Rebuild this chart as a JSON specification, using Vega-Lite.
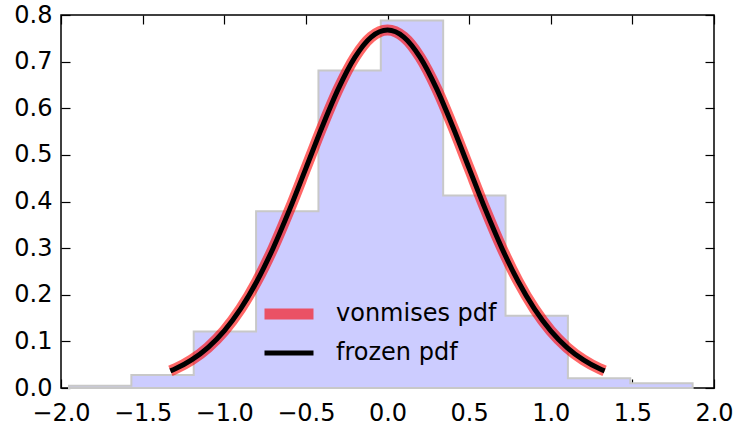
{
  "$schema": "https://vega.github.io/schema/vega-lite/v6.json",
  "width": 653,
  "height": 373,
  "autosize": {"type": "none"},
  "padding": {"left": 61, "top": 15, "right": 23, "bottom": 37},
  "background": "white",
  "config": {
    "view": {"stroke": "black", "strokeWidth": 1.5},
    "font": "DejaVu Sans",
    "axis": {"grid": false, "domain": false, "tickColor": "black", "tickWidth": 1.2, "tickSize": -9, "labelFont": "DejaVu Sans", "labelFontSize": 24, "labelColor": "black", "labelOverlap": false, "labelBound": false, "labelFlush": false, "title": null},
    "legend": {"orient": "none", "legendX": 210, "legendY": 281, "symbolType": "M-2,0H2", "symbolSize": 600, "labelFont": "DejaVu Sans", "labelFontSize": 24, "labelColor": "black", "labelLimit": 400, "rowPadding": 2, "labelOffset": 29, "title": null}
  },
  "datasets": {
    "hist": [
      {"x": -1.951, "h": 0.005},
      {"x": -1.569, "h": 0.028},
      {"x": -1.187, "h": 0.121},
      {"x": -0.805, "h": 0.379},
      {"x": -0.423, "h": 0.681},
      {"x": -0.041, "h": 0.788},
      {"x": 0.341, "h": 0.413},
      {"x": 0.723, "h": 0.155},
      {"x": 1.105, "h": 0.021},
      {"x": 1.487, "h": 0.010},
      {"x": 1.869, "h": 0.010}
    ],
    "curve": [
      {"x": -1.33, "y": 0.0368}, {"x": -1.3, "y": 0.0413}, {"x": -1.2, "y": 0.0603}, {"x": -1.1, "y": 0.0868},
      {"x": -1.0, "y": 0.1226}, {"x": -0.9, "y": 0.1697}, {"x": -0.8, "y": 0.2289}, {"x": -0.7, "y": 0.3004},
      {"x": -0.6, "y": 0.3825}, {"x": -0.5, "y": 0.4711}, {"x": -0.4, "y": 0.5603}, {"x": -0.3, "y": 0.6425},
      {"x": -0.2, "y": 0.7091}, {"x": -0.1, "y": 0.7527}, {"x": 0.0, "y": 0.7678}, {"x": 0.1, "y": 0.7527},
      {"x": 0.2, "y": 0.7091}, {"x": 0.3, "y": 0.6425}, {"x": 0.4, "y": 0.5603}, {"x": 0.5, "y": 0.4711},
      {"x": 0.6, "y": 0.3825}, {"x": 0.7, "y": 0.3004}, {"x": 0.8, "y": 0.2289}, {"x": 0.9, "y": 0.1697},
      {"x": 1.0, "y": 0.1226}, {"x": 1.1, "y": 0.0868}, {"x": 1.2, "y": 0.0603}, {"x": 1.3, "y": 0.0413},
      {"x": 1.33, "y": 0.0368}
    ]
  },
  "layer": [
    {
      "data": {"name": "hist"},
      "mark": {"type": "area", "interpolate": "step-after", "fill": "#ccccff", "stroke": "#c8c8c8", "strokeWidth": 2},
      "encoding": {
        "x": {"field": "x", "type": "quantitative", "scale": {"domain": [-2, 2], "nice": false}, "axis": {"orient": "bottom", "values": [-2, -1.5, -1, -0.5, 0, 0.5, 1, 1.5, 2], "format": ".1f", "labelPadding": 22}},
        "y": {"field": "h", "type": "quantitative", "scale": {"domain": [0, 0.8], "nice": false}, "axis": {"orient": "left", "values": [0, 0.1, 0.2, 0.3, 0.4, 0.5, 0.6, 0.7, 0.8], "format": ".1f", "labelPadding": 18}}
      }
    },
    {
      "data": {"name": "curve"},
      "transform": [{"calculate": "'vonmises pdf'", "as": "series"}],
      "mark": {"type": "line", "interpolate": "monotone"},
      "encoding": {
        "x": {"field": "x", "type": "quantitative", "axis": {"orient": "top", "values": [-2, -1.5, -1, -0.5, 0, 0.5, 1, 1.5, 2], "labels": false}},
        "y": {"field": "y", "type": "quantitative", "axis": {"orient": "right", "values": [0, 0.1, 0.2, 0.3, 0.4, 0.5, 0.6, 0.7, 0.8], "labels": false}},
        "color": {"field": "series", "type": "nominal", "scale": {"domain": ["vonmises pdf", "frozen pdf"], "range": ["#ff0000", "#000000"]}},
        "opacity": {"field": "series", "type": "nominal", "scale": {"domain": ["vonmises pdf", "frozen pdf"], "range": [0.6, 1]}},
        "strokeWidth": {"field": "series", "type": "nominal", "scale": {"domain": ["vonmises pdf", "frozen pdf"], "range": [11, 5]}}
      }
    },
    {
      "data": {"name": "curve"},
      "transform": [{"calculate": "'frozen pdf'", "as": "series"}],
      "mark": {"type": "line", "interpolate": "monotone"},
      "encoding": {
        "x": {"field": "x", "type": "quantitative", "axis": null},
        "y": {"field": "y", "type": "quantitative", "axis": null},
        "color": {"field": "series", "type": "nominal"},
        "opacity": {"field": "series", "type": "nominal"},
        "strokeWidth": {"field": "series", "type": "nominal"}
      }
    }
  ],
  "resolve": {"axis": {"x": "independent", "y": "independent"}}
}
